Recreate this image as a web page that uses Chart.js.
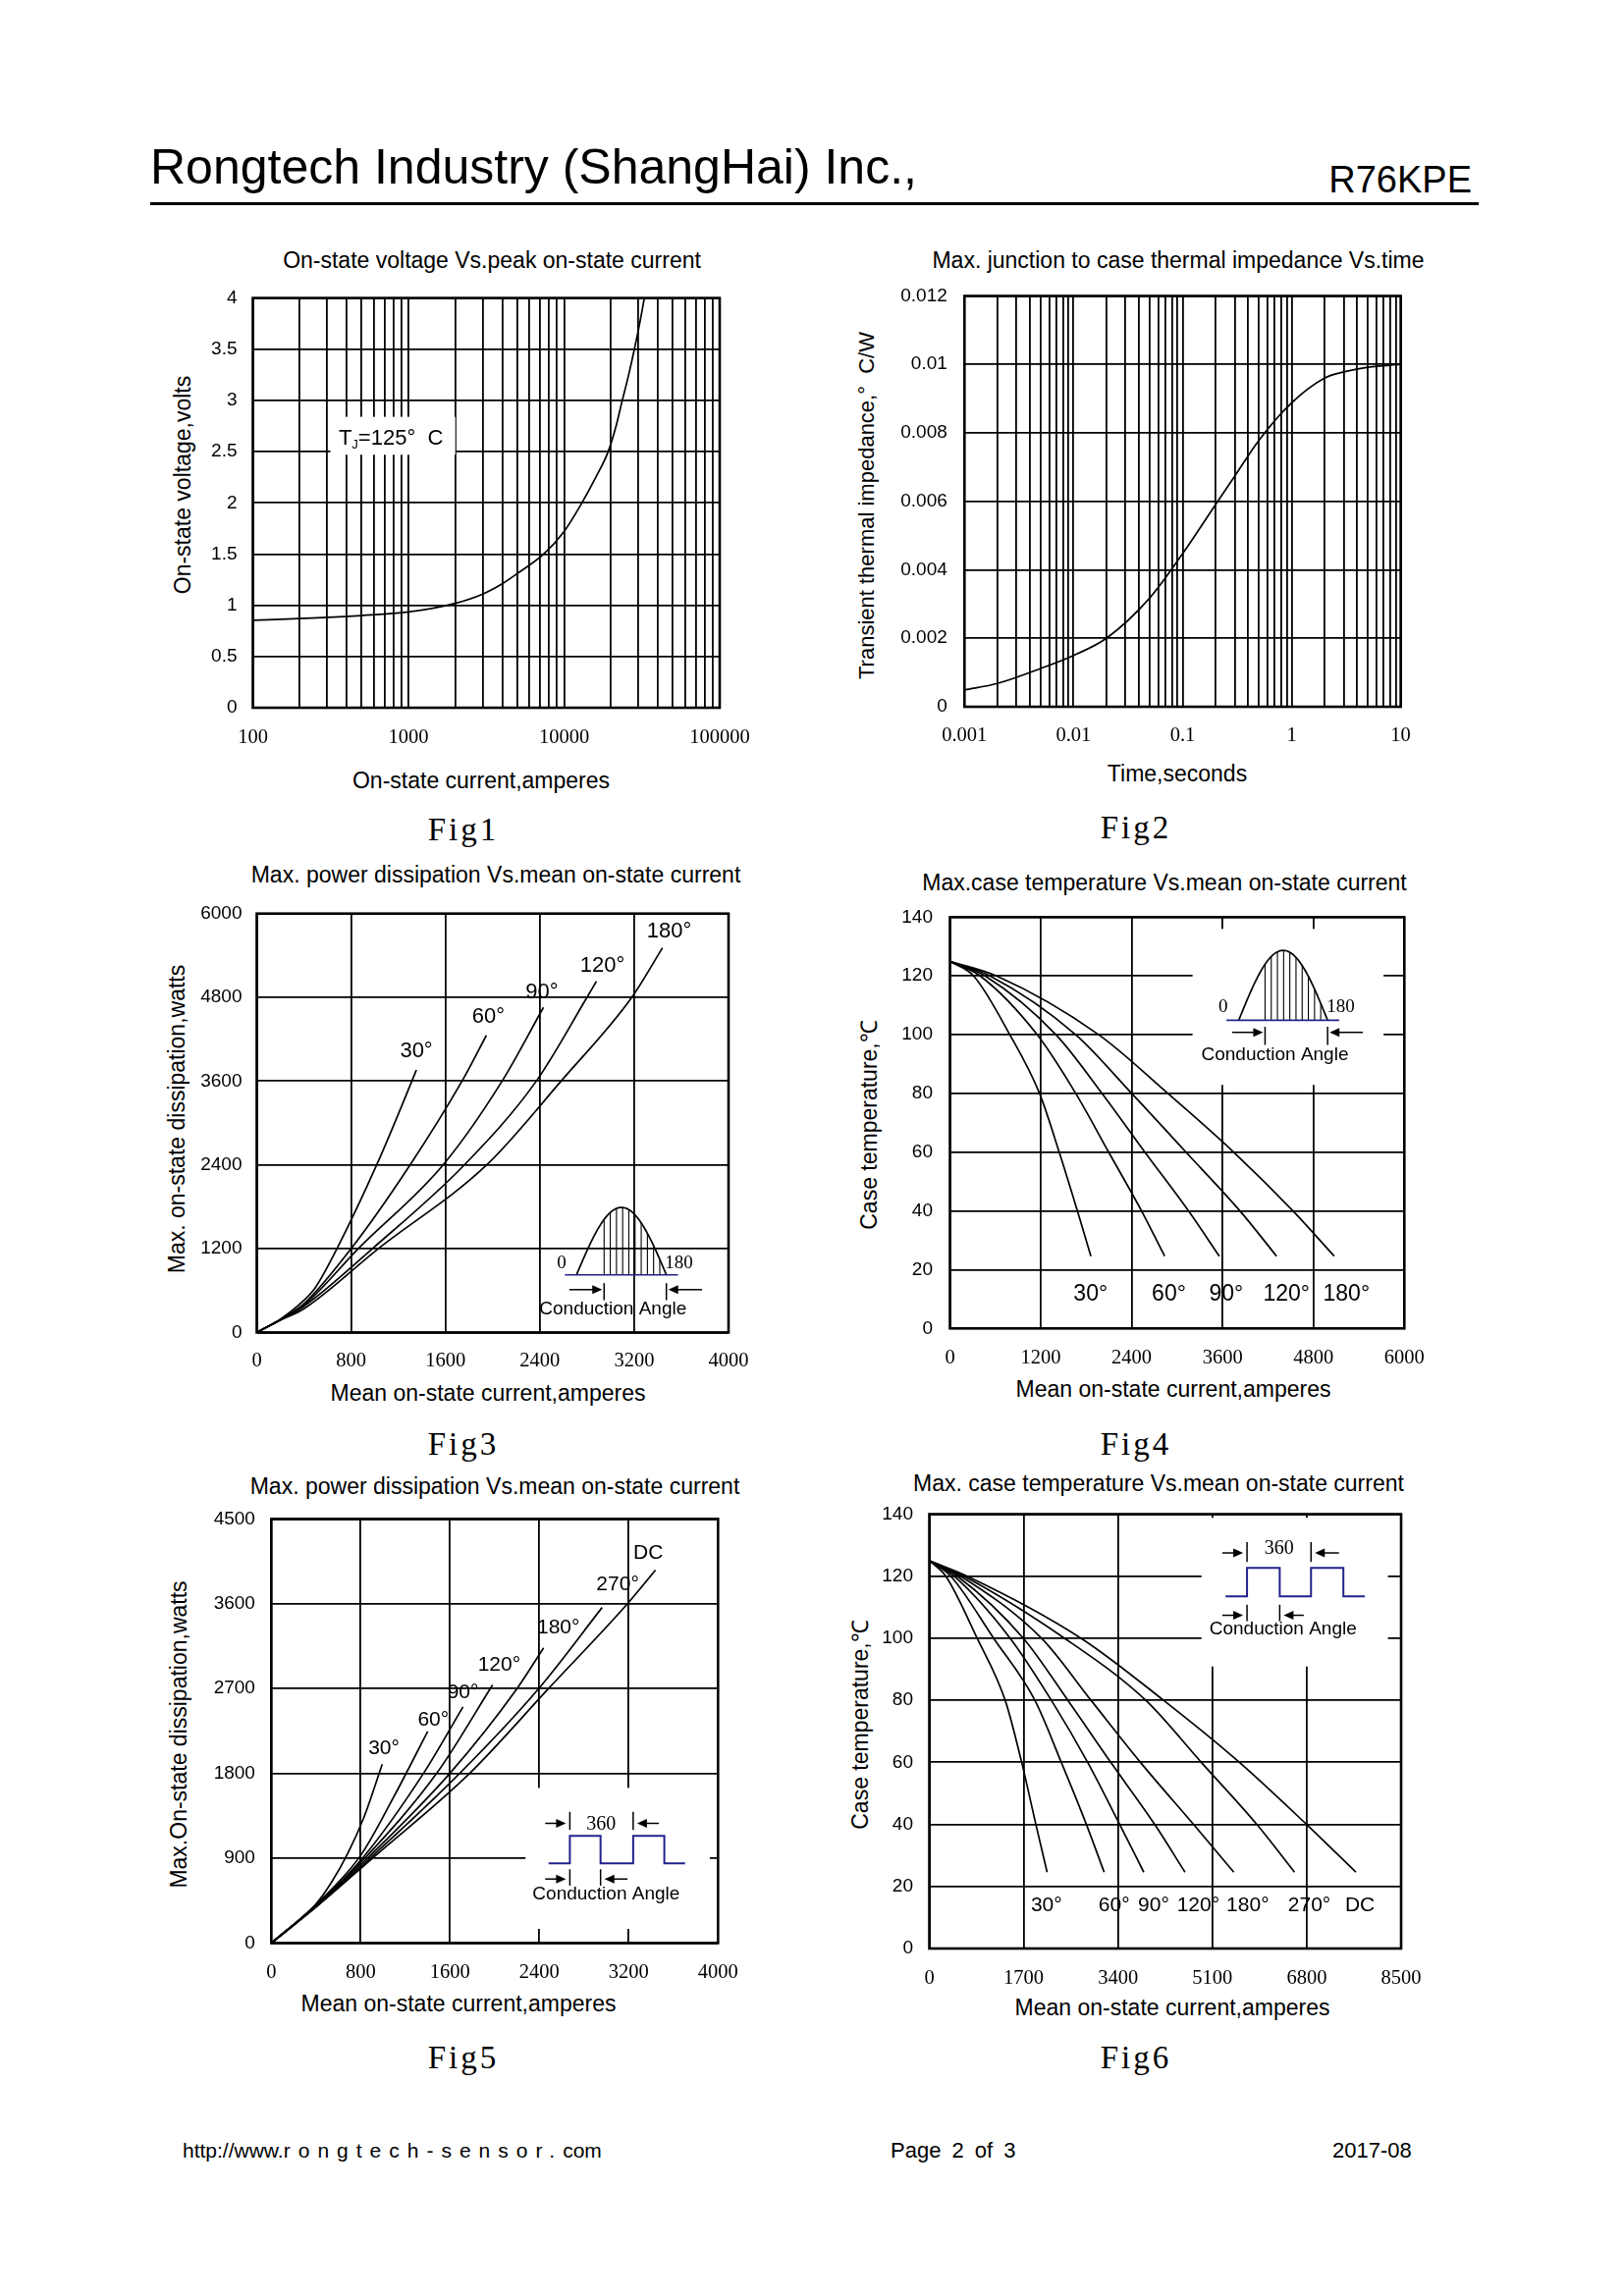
<!DOCTYPE html>
<html>
<head>
<meta charset="utf-8">
<title>R76KPE characteristic curves</title>
<script src="https://cdn.jsdelivr.net/npm/chart.js@4.4.1/dist/chart.umd.min.js"></script>
<style>
  body { margin: 0; background: #fff; }
  #page { position: relative; width: 1653px; height: 2339px; background: #fff; overflow: hidden;
          font-family: "Liberation Sans", Arial, sans-serif; color: #000; }
  .t { position: absolute; white-space: nowrap; line-height: 1; transform: translate(-50%, -50%); }
  .rot { transform: translate(-50%, -50%) rotate(-90deg); }
  .title, .axis { font-size: 23px; }
  .fig { font-family: "Liberation Serif", serif; font-size: 33px; letter-spacing: 3px; }
  .abs { position: absolute; white-space: nowrap; line-height: 1; }
  canvas { position: absolute; }
</style>
</head>
<body>
<div id="page">
  <div class="abs" style="left:153px; top:145px; font-size:50px;">Rongtech Industry (ShangHai) Inc.,</div>
  <div class="abs" style="right:154px; top:164px; font-size:38px;">R76KPE</div>
  <div style="position:absolute; left:153px; top:206px; width:1353px; height:3px; background:#000;"></div>

  <!-- Fig1 -->
  <div class="t title" style="left:501px; top:265px;">On-state voltage Vs.peak on-state current</div>
  <div class="t axis rot" style="left:186px; top:494px;">On-state voltage,volts</div>
  <div class="t axis" style="left:490px; top:795px;">On-state current,amperes</div>
  <div class="t fig" style="left:472px; top:845px;">Fig1</div>
  <canvas id="c1"></canvas>

  <!-- Fig2 -->
  <div class="t title" style="left:1200px; top:265px;">Max. junction to case thermal impedance Vs.time</div>
  <div class="t axis rot" style="left:883px; top:515px; font-size:22px;">Transient thermal impedance,°&nbsp;&nbsp;C/W</div>
  <div class="t axis" style="left:1199px; top:788px;">Time,seconds</div>
  <div class="t fig" style="left:1157px; top:843px;">Fig2</div>
  <canvas id="c2"></canvas>

  <!-- Fig3 -->
  <div class="t title" style="left:505px; top:891px;">Max. power dissipation Vs.mean on-state current</div>
  <div class="t axis rot" style="left:180px; top:1140px;">Max. on-state dissipation,watts</div>
  <div class="t axis" style="left:497px; top:1419px;">Mean on-state current,amperes</div>
  <div class="t fig" style="left:472px; top:1471px;">Fig3</div>
  <canvas id="c3"></canvas>

  <!-- Fig4 -->
  <div class="t title" style="left:1186px; top:899px;">Max.case temperature Vs.mean on-state current</div>
  <div class="t axis rot" style="left:885px; top:1146px;">Case temperature,℃</div>
  <div class="t axis" style="left:1195px; top:1415px;">Mean on-state current,amperes</div>
  <div class="t fig" style="left:1157px; top:1471px;">Fig4</div>
  <canvas id="c4"></canvas>

  <!-- Fig5 -->
  <div class="t title" style="left:504px; top:1514px;">Max. power dissipation Vs.mean on-state current</div>
  <div class="t axis rot" style="left:182px; top:1767px;">Max.On-state dissipation,watts</div>
  <div class="t axis" style="left:467px; top:2041px;">Mean on-state current,amperes</div>
  <div class="t fig" style="left:472px; top:2096px;">Fig5</div>
  <canvas id="c5"></canvas>

  <!-- Fig6 -->
  <div class="t title" style="left:1180px; top:1511px;">Max. case temperature Vs.mean on-state current</div>
  <div class="t axis rot" style="left:876px; top:1757px;">Case temperature,℃</div>
  <div class="t axis" style="left:1194px; top:2045px;">Mean on-state current,amperes</div>
  <div class="t fig" style="left:1157px; top:2096px;">Fig6</div>
  <canvas id="c6"></canvas>

  <div class="abs" style="left:186px; top:2180px; font-size:21px;">http://www.<span style="letter-spacing:8px;">rongtech-sensor.</span>com</div>
  <div class="abs" style="left:907px; top:2180px; font-size:22px; word-spacing:5px;">Page 2 of 3</div>
  <div class="abs" style="left:1357px; top:2180px; font-size:22px;">2017-08</div>
</div>

<script>
// ---------- Fig1: on-state voltage vs peak current (Tj = 125 C) ----------
const fig1Current = [100, 200, 500, 1000, 2000, 3000, 4000, 5000, 7400, 10000, 12800, 16000, 19200, 21500, 23400, 26000, 28300, 30600, 32800];
const fig1Voltage = [0.855, 0.87, 0.9, 0.935, 1.02, 1.11, 1.21, 1.31, 1.5, 1.72, 1.98, 2.25, 2.5, 2.74, 2.97, 3.25, 3.5, 3.75, 4.0];
const fig1Decades = [100, 1000, 10000, 100000];
const fig1XLabels = ['100', '1000', '10000', '100000'];
const fig1YTicks = [0, 0.5, 1, 1.5, 2, 2.5, 3, 3.5, 4];

// ---------- Fig2: transient thermal impedance vs time ----------
const fig2Time = [0.001, 0.002, 0.005, 0.01, 0.02, 0.05, 0.1, 0.2, 0.3, 0.5, 1, 2, 3, 5, 10];
const fig2Impedance = [0.00049, 0.00068, 0.00112, 0.0015, 0.002, 0.00318, 0.00447, 0.0059, 0.00673, 0.00778, 0.00888, 0.0096, 0.00978, 0.00992, 0.01];
const fig2Decades = [0.001, 0.01, 0.1, 1, 10];
const fig2XLabels = ['0.001', '0.01', '0.1', '1', '10'];
const fig2YTicks = [0, 0.002, 0.004, 0.006, 0.008, 0.01, 0.012];

// ---------- Fig3: power dissipation vs mean current (sine) ----------
const fig3Angles = ['30°', '60°', '90°', '120°', '180°'];
const fig3I30 = [0, 200, 400, 500, 680, 1017, 1315, 1353];
const fig3P30 = [0, 190, 460, 650, 1200, 2400, 3600, 3760];
const fig3I60 = [0, 200, 400, 800, 1300, 1740, 1947];
const fig3P60 = [0, 185, 410, 1200, 2400, 3600, 4256];
const fig3I90 = [0, 200, 400, 860, 1580, 2080, 2431];
const fig3P90 = [0, 182, 390, 1200, 2400, 3600, 4657];
const fig3I120 = [0, 200, 400, 980, 1760, 2370, 2800, 2880];
const fig3P120 = [0, 180, 375, 1200, 2400, 3600, 4800, 5031];
const fig3I180 = [0, 200, 400, 1030, 1950, 2580, 3180, 3440];
const fig3P180 = [0, 175, 340, 1200, 2400, 3600, 4800, 5509];
const fig3XTicks = [0, 800, 1600, 2400, 3200, 4000];
const fig3YTicks = [0, 1200, 2400, 3600, 4800, 6000];

// ---------- Fig4: case temperature vs mean current (sine) ----------
const fig4Temp = [125, 120, 100, 80, 60, 40, 24.6];
const fig4I30 = [0, 313, 791, 1183, 1443, 1683, 1861];
const fig4I60 = [0, 400, 1152, 1661, 2096, 2530, 2835];
const fig4I90 = [0, 465, 1400, 2009, 2574, 3150, 3557];
const fig4I120 = [0, 530, 1661, 2400, 3117, 3830, 4313];
const fig4I180 = [0, 617, 1965, 2878, 3748, 4530, 5074];
const fig4XTicks = [0, 1200, 2400, 3600, 4800, 6000];
const fig4YTicks = [0, 20, 40, 60, 80, 100, 120, 140];

// ---------- Fig5: power dissipation vs mean current (square) ----------
const fig5Angles = ['30°', '60°', '90°', '120°', '180°', '270°', 'DC'];
const fig5I30 = [0, 389, 536, 684, 831, 993];
const fig5P30 = [0, 400, 640, 950, 1340, 1897];
const fig5I60 = [0, 400, 800, 1100, 1400];
const fig5P60 = [0, 410, 930, 1560, 2245];
const fig5I90 = [0, 400, 816, 1362, 1716];
const fig5P90 = [0, 400, 900, 1800, 2506];
const fig5I120 = [0, 400, 837, 1480, 1981];
const fig5P120 = [0, 395, 900, 1800, 2739];
const fig5I180 = [0, 400, 861, 1598, 2200, 2438];
const fig5P180 = [0, 390, 900, 1800, 2700, 3132];
const fig5I270 = [0, 400, 884, 1686, 2394, 2962];
const fig5P270 = [0, 385, 900, 1800, 2700, 3560];
const fig5IDC = [0, 400, 905, 1775, 2482, 3189, 3440];
const fig5PDC = [0, 380, 900, 1800, 2700, 3600, 3957];
const fig5XTicks = [0, 800, 1600, 2400, 3200, 4000];
const fig5YTicks = [0, 900, 1800, 2700, 3600, 4500];

// ---------- Fig6: case temperature vs mean current (square) ----------
const fig6Temp = [125, 120, 100, 80, 60, 40, 24.6];
const fig6I30 = [0, 297, 862, 1367, 1664, 1920, 2122];
const fig6I60 = [0, 386, 1159, 1902, 2378, 2830, 3150];
const fig6I90 = [0, 446, 1456, 2199, 2853, 3430, 3864];
const fig6I120 = [0, 505, 1694, 2497, 3269, 4060, 4607];
const fig6I180 = [0, 565, 2021, 2913, 3804, 4760, 5486];
const fig6I270 = [0, 624, 2437, 3900, 4900, 5900, 6580];
const fig6IDC = [0, 684, 2734, 4220, 5587, 6797, 7686];
const fig6XTicks = [0, 1700, 3400, 5100, 6800, 8500];
const fig6YTicks = [0, 20, 40, 60, 80, 100, 120, 140];

Chart.defaults.font.family = '"Liberation Sans", Arial, sans-serif';
Chart.defaults.color = '#000';

const sansTick = { family: '"Liberation Sans", Arial, sans-serif', size: 19 };
const serifTick = { family: '"Liberation Serif", "Times New Roman", serif', size: 20.5 };

function curve(xs, ys) {
  return {
    data: xs.map((x, i) => ({ x: x, y: ys[i] })),
    borderColor: '#000',
    borderWidth: 1.7,
    pointRadius: 0,
    fill: false,
    cubicInterpolationMode: 'monotone'
  };
}

function logGrid(decades) {
  const out = [];
  decades.slice(0, -1).forEach(d => { for (let k = 1; k < 10; k++) out.push(k * d); });
  out.push(decades[decades.length - 1]);
  return out;
}

function axis(type, min, max, tickValues, labelFn, font, pad) {
  return {
    type: type, min: min, max: max,
    afterBuildTicks: s => { s.ticks = tickValues.map(v => ({ value: v })); },
    ticks: { autoSkip: false, maxRotation: 0, minRotation: 0, padding: pad, font: font, color: '#000', callback: labelFn },
    grid: { color: '#000', lineWidth: 1.8, drawTicks: false },
    border: { display: false }
  };
}

function decadeLabel(decades, labels) {
  return v => {
    const i = decades.findIndex(d => Math.abs(d - v) < d * 1e-6);
    return i < 0 ? '' : labels[i];
  };
}

function plain(v) { return String(v); }

function arrow(ctx, x0, x1, yy) {
  const dir = Math.sign(x1 - x0);
  ctx.beginPath(); ctx.moveTo(x0, yy); ctx.lineTo(x1 - dir * 6, yy); ctx.stroke();
  ctx.beginPath(); ctx.moveTo(x1, yy); ctx.lineTo(x1 - dir * 10, yy - 4.5); ctx.lineTo(x1 - dir * 10, yy + 4.5);
  ctx.closePath(); ctx.fill();
}

function vline(ctx, xx, y0, y1) { ctx.beginPath(); ctx.moveTo(xx, y0); ctx.lineTo(xx, y1); ctx.stroke(); }

function text(ctx, str, xx, yy, font) {
  ctx.font = font; ctx.textAlign = 'center'; ctx.textBaseline = 'middle'; ctx.fillText(str, xx, yy);
}

const insetSans = '19px "Liberation Sans", Arial, sans-serif';
const insetSerif = '19px "Liberation Serif", "Times New Roman", serif';

function drawSine(chart, o) {
  const ctx = chart.ctx, px = v => chart.scales.x.getPixelForValue(v), py = v => chart.scales.y.getPixelForValue(v);
  const X0 = px(o.x0), X1 = px(o.x1), B = py(o.base), P = py(o.peak);
  const wave = X => B - (B - P) * Math.sin(Math.PI * (X - X0) / (X1 - X0));
  ctx.save();
  ctx.strokeStyle = '#000'; ctx.fillStyle = '#000'; ctx.lineWidth = 1.7;
  ctx.beginPath(); ctx.moveTo(X0, B);
  for (let X = X0; X <= X1; X += 1) ctx.lineTo(X, wave(X));
  ctx.lineTo(X1, B); ctx.stroke();
  ctx.lineWidth = 1.1;
  const H0 = px(o.hatchFrom);
  for (let X = H0; X < X1 - 2; X += 6.3) vline(ctx, X, B, wave(X));
  ctx.strokeStyle = '#22228c'; ctx.lineWidth = 1.6;
  ctx.beginPath(); ctx.moveTo(px(o.line[0]), B); ctx.lineTo(px(o.line[1]), B); ctx.stroke();
  ctx.strokeStyle = '#000'; ctx.lineWidth = 1.5;
  const AY = py(o.arrowY);
  vline(ctx, H0, py(o.tick[0]), py(o.tick[1]));
  vline(ctx, X1, py(o.tick[0]), py(o.tick[1]));
  arrow(ctx, px(o.leftArrow), H0 - 2, AY);
  arrow(ctx, px(o.rightArrow), X1 + 2, AY);
  text(ctx, '0', px(o.zero[0]), py(o.zero[1]), insetSerif);
  text(ctx, '180', px(o.end[0]), py(o.end[1]), insetSerif);
  text(ctx, 'Conduction Angle', px(o.label[0]), py(o.label[1]), insetSans);
  ctx.restore();
}

function drawSquare(chart, o) {
  const ctx = chart.ctx, px = v => chart.scales.x.getPixelForValue(v), py = v => chart.scales.y.getPixelForValue(v);
  const xs = o.xs.map(px), L = py(o.low), H = py(o.high);
  ctx.save();
  ctx.strokeStyle = '#22228c'; ctx.lineWidth = 2;
  ctx.beginPath();
  ctx.moveTo(xs[0], L); ctx.lineTo(xs[1], L); ctx.lineTo(xs[1], H); ctx.lineTo(xs[2], H); ctx.lineTo(xs[2], L);
  ctx.lineTo(xs[3], L); ctx.lineTo(xs[3], H); ctx.lineTo(xs[4], H); ctx.lineTo(xs[4], L); ctx.lineTo(xs[5], L);
  ctx.stroke();
  ctx.strokeStyle = '#000'; ctx.fillStyle = '#000'; ctx.lineWidth = 1.5;
  vline(ctx, xs[1], py(o.topTick[0]), py(o.topTick[1]));
  vline(ctx, xs[3], py(o.topTick[0]), py(o.topTick[1]));
  arrow(ctx, px(o.topLeft), xs[1] - 4, py(o.topY));
  arrow(ctx, px(o.topRight), xs[3] + 4, py(o.topY));
  vline(ctx, xs[1], py(o.botTick[0]), py(o.botTick[1]));
  vline(ctx, xs[2], py(o.botTick[0]), py(o.botTick[1]));
  arrow(ctx, px(o.botLeft), xs[1] - 4, py(o.botY));
  arrow(ctx, px(o.botRight), xs[2] + 4, py(o.botY));
  text(ctx, '360', px(o.num[0]), py(o.num[1]), '20px "Liberation Serif", "Times New Roman", serif');
  text(ctx, 'Conduction Angle', px(o.label[0]), py(o.label[1]), insetSans);
  ctx.restore();
}

function decor(spec) {
  return {
    id: 'decor',
    beforeDatasetsDraw(chart) {
      const ctx = chart.ctx, a = chart.chartArea, x = chart.scales.x, y = chart.scales.y;
      ctx.save();
      if (spec.blank) {
        const b = spec.blank;
        const l = x.getPixelForValue(b[0]), r = x.getPixelForValue(b[1]);
        const t = y.getPixelForValue(b[3]), btm = y.getPixelForValue(b[2]);
        ctx.fillStyle = '#fff';
        ctx.fillRect(l, t, r - l, btm - t);
      }
      ctx.strokeStyle = '#000'; ctx.lineWidth = 2.6;
      ctx.strokeRect(a.left, a.top, a.right - a.left, a.bottom - a.top);
      ctx.restore();
    },
    afterDatasetsDraw(chart) {
      const ctx = chart.ctx, x = chart.scales.x, y = chart.scales.y;
      ctx.save();
      ctx.fillStyle = '#000';
      (spec.labels || []).forEach(l => text(ctx, l[0], x.getPixelForValue(l[1]), y.getPixelForValue(l[2]), spec.labelFont));
      if (spec.tj) {
        let X = x.getPixelForValue(spec.tj[0]);
        const Y = y.getPixelForValue(spec.tj[1]);
        ctx.textAlign = 'left'; ctx.textBaseline = 'alphabetic';
        ctx.font = '22px "Liberation Sans", Arial, sans-serif';
        ctx.fillText('T', X, Y); X += ctx.measureText('T').width;
        ctx.font = '13px "Liberation Sans", Arial, sans-serif';
        ctx.fillText('J', X, Y + 4); X += ctx.measureText('J').width;
        ctx.font = '22px "Liberation Sans", Arial, sans-serif';
        ctx.fillText('=125°  C', X, Y);
      }
      ctx.restore();
      if (spec.sine) drawSine(chart, spec.sine);
      if (spec.square) drawSquare(chart, spec.square);
    }
  };
}

function makeChart(id, box, xAxis, yAxis, datasets, spec) {
  const left = Math.floor(box.l) - 70, top = Math.floor(box.t) - 15;
  const width = Math.ceil(box.r) + 40 - left, height = Math.ceil(box.b) + 45 - top;
  const cv = document.getElementById(id);
  cv.width = width; cv.height = height;
  cv.style.left = left + 'px'; cv.style.top = top + 'px';
  cv.style.width = width + 'px'; cv.style.height = height + 'px';
  xAxis.afterFit = s => { s.height = height - (box.b - top); s.paddingLeft = 0; s.paddingRight = 0; };
  yAxis.afterFit = s => { s.width = box.l - left; s.paddingTop = 0; s.paddingBottom = 0; };
  return new Chart(cv, {
    type: 'line',
    data: { datasets: datasets },
    options: {
      responsive: false,
      animation: false,
      layout: { padding: { left: 0, top: box.t - top, right: width - (box.r - left), bottom: 0 } },
      plugins: { legend: { display: false }, tooltip: { enabled: false }, title: { display: false } },
      scales: { x: xAxis, y: yAxis }
    },
    plugins: [decor(spec)]
  });
}

// Fig1
makeChart('c1', { l: 257.5, t: 303.6, r: 733, b: 721 },
  axis('logarithmic', 100, 100000, logGrid(fig1Decades), decadeLabel(fig1Decades, fig1XLabels), serifTick, 18),
  axis('linear', 0, 4, fig1YTicks, plain, sansTick, 16),
  [curve(fig1Current, fig1Voltage)],
  { blank: [315, 2000, 2.47, 2.84], tj: [356, 2.57] });

// Fig2
makeChart('c2', { l: 982.3, t: 301.5, r: 1426.6, b: 720 },
  axis('logarithmic', 0.001, 10, logGrid(fig2Decades), decadeLabel(fig2Decades, fig2XLabels), serifTick, 17.5),
  axis('linear', 0, 0.012, fig2YTicks, plain, sansTick, 17.5),
  [curve(fig2Time, fig2Impedance)],
  {});

// Fig3
makeChart('c3', { l: 261.5, t: 930.7, r: 742, b: 1357.4 },
  axis('linear', 0, 4000, fig3XTicks, plain, serifTick, 16.5),
  axis('linear', 0, 6000, fig3YTicks, plain, sansTick, 15),
  [curve(fig3I30, fig3P30), curve(fig3I60, fig3P60), curve(fig3I90, fig3P90), curve(fig3I120, fig3P120), curve(fig3I180, fig3P180)],
  {
    labelFont: '22px "Liberation Sans", Arial, sans-serif',
    labels: [[fig3Angles[0], 1353, 4035], [fig3Angles[1], 1964, 4515], [fig3Angles[2], 2417, 4869], [fig3Angles[3], 2930, 5246], [fig3Angles[4], 3496, 5740]],
    sine: { x0: 2711, x1: 3473, base: 825, peak: 1791, hatchFrom: 2945, line: [2613, 3571], arrowY: 613, tick: [707, 462],
            leftArrow: 2650, rightArrow: 3776, zero: [2585, 990], end: [3580, 990], label: [3020, 330] }
  });

// Fig4
makeChart('c4', { l: 967.5, t: 934.4, r: 1430.3, b: 1353.3 },
  axis('linear', 0, 6000, fig4XTicks, plain, serifTick, 18.5),
  axis('linear', 0, 140, fig4YTicks, plain, sansTick, 17.5),
  [curve(fig4I30, fig4Temp), curve(fig4I60, fig4Temp), curve(fig4I90, fig4Temp), curve(fig4I120, fig4Temp), curve(fig4I180, fig4Temp)],
  {
    blank: [3204, 5726, 82.9, 136],
    labelFont: '23px "Liberation Sans", Arial, sans-serif',
    labels: [[fig3Angles[0], 1857, 11.6], [fig3Angles[1], 2891, 11.6], [fig3Angles[2], 3648, 11.6], [fig3Angles[3], 4443, 11.6], [fig3Angles[4], 5235, 11.6]],
    sine: { x0: 3813, x1: 4987, base: 104.9, peak: 128.7, hatchFrom: 4161, line: [3652, 5139], arrowY: 100.8, tick: [102.7, 96.5],
            leftArrow: 3726, rightArrow: 5452, zero: [3609, 109.4], end: [5161, 109.4], label: [4291, 93.2] }
  });

// Fig5
makeChart('c5', { l: 276.4, t: 1547.4, r: 731.3, b: 1979.4 },
  axis('linear', 0, 4000, fig5XTicks, plain, serifTick, 17.5),
  axis('linear', 0, 4500, fig5YTicks, plain, sansTick, 16.5),
  [curve(fig5I30, fig5P30), curve(fig5I60, fig5P60), curve(fig5I90, fig5P90), curve(fig5I120, fig5P120),
   curve(fig5I180, fig5P180), curve(fig5I270, fig5P270), curve(fig5IDC, fig5PDC)],
  {
    blank: [2276, 3926, 150, 1646],
    labelFont: '21px "Liberation Sans", Arial, sans-serif',
    labels: [[fig5Angles[0], 1008, 2060], [fig5Angles[1], 1450, 2366], [fig5Angles[2], 1716, 2662], [fig5Angles[3], 2040, 2948],
             [fig5Angles[4], 2570, 3341], [fig5Angles[5], 3101, 3801], [fig5Angles[6], 3375, 4141]],
    square: { xs: [2482, 2673, 2948, 3240, 3519, 3705], low: 846, high: 1138,
              topY: 1270, topTick: [1392, 1200], topLeft: 2452, topRight: 3470,
              botY: 679, botTick: [783, 609], botLeft: 2452, botRight: 3189,
              num: [2953, 1253], label: [2998, 512] }
  });

// Fig6
makeChart('c6', { l: 946.5, t: 1542.5, r: 1427, b: 1985 },
  axis('linear', 0, 8500, fig6XTicks, plain, serifTick, 18.5),
  axis('linear', 0, 140, fig6YTicks, plain, sansTick, 16.5),
  [curve(fig6I30, fig6Temp), curve(fig6I60, fig6Temp), curve(fig6I90, fig6Temp), curve(fig6I120, fig6Temp),
   curve(fig6I180, fig6Temp), curve(fig6I270, fig6Temp), curve(fig6IDC, fig6Temp)],
  {
    blank: [4904, 8262, 90.9, 138.8],
    labelFont: '21px "Liberation Sans", Arial, sans-serif',
    labels: [[fig5Angles[0], 2110, 14], [fig5Angles[1], 3329, 14], [fig5Angles[2], 4042, 14], [fig5Angles[3], 4845, 14],
             [fig5Angles[4], 5737, 14], [fig5Angles[5], 6846, 14], [fig5Angles[6], 7759, 14]],
    square: { xs: [5337, 5724, 6313, 6877, 7460, 7846], low: 113.5, high: 122.7,
              topY: 127.5, topTick: [131, 124.6], topLeft: 5278, topRight: 7380,
              botY: 107.4, botTick: [110.8, 105.5], botLeft: 5278, botRight: 6747,
              num: [6301, 128.8], label: [6373, 102.9] }
  });
</script>
</body>
</html>
